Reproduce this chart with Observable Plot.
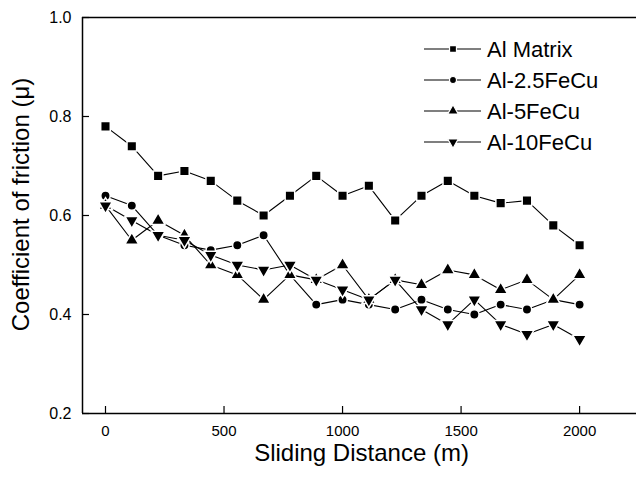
<!DOCTYPE html>
<html><head><meta charset="utf-8">
<script src="https://cdn.jsdelivr.net/npm/d3@7"></script>
<script src="https://cdn.jsdelivr.net/npm/@observablehq/plot@0.6"></script>
<style>
body{margin:0;background:#fff;}
#wrap{position:relative;width:636px;height:477px;}
#legend{position:absolute;left:0;top:0;}
</style></head><body><div id="wrap"></div>
<script>
const distance   = [0, 111, 222, 333, 444, 556, 667, 778, 889, 1000, 1111, 1222, 1333, 1444, 1556, 1667, 1778, 1889, 2000];
const alMatrix   = [0.78, 0.74, 0.68, 0.69, 0.67, 0.63, 0.60, 0.64, 0.68, 0.64, 0.66, 0.59, 0.64, 0.67, 0.64, 0.625, 0.63, 0.58, 0.54];
const al25FeCu   = [0.64, 0.62, 0.56, 0.54, 0.53, 0.54, 0.56, 0.48, 0.42, 0.43, 0.42, 0.41, 0.43, 0.41, 0.40, 0.42, 0.41, 0.43, 0.42];
const al5FeCu    = [0.62, 0.55, 0.59, 0.56, 0.50, 0.48, 0.43, 0.48, 0.47, 0.50, 0.43, 0.47, 0.46, 0.49, 0.48, 0.45, 0.47, 0.43, 0.48];
const al10FeCu   = [0.62, 0.59, 0.56, 0.55, 0.52, 0.50, 0.49, 0.50, 0.47, 0.45, 0.43, 0.47, 0.41, 0.38, 0.43, 0.38, 0.36, 0.38, 0.35];
const seriesNames = ["Al Matrix", "Al-2.5FeCu", "Al-5FeCu", "Al-10FeCu"];
const seriesValues = [alMatrix, al25FeCu, al5FeCu, al10FeCu];
const seriesSymbols = ["square", "circle", "triangle", "triangle"];
const seriesRotate = [0, 0, 0, 180];
const seriesRadius = [5.4, 4.7, 5.1, 5.1];
const xTicks = [0, 500, 1000, 1500, 2000];
const yTicks = [0.2, 0.4, 0.6, 0.8, 1.0];
const xDomain = [-97, 2240];
const yDomain = [0.2, 1.0];
const xTitle = "Sliding Distance (m)";
const yTitle = "Coefficient of friction (\u03bc)";

const rows = [];
seriesNames.forEach((name, i) => {
  distance.forEach((d, j) => rows.push({series: name, idx: i, x: d, y: seriesValues[i][j]}));
});

const mainFont = "'Liberation Sans', Arial, Helvetica, sans-serif";

const marks = [
  Plot.ruleX([xDomain[0]], {stroke: "black", strokeWidth: 1.5}),
  Plot.ruleY([yDomain[0], yDomain[1]], {stroke: "black", strokeWidth: 1.5}),
  Plot.axisX(xTicks, {anchor: "bottom", tickSize: -7, tickPadding: 19, tickFormat: d3.format("d"), label: null, fontSize: 15, fontFamily: mainFont, strokeWidth: 1.2}),
  Plot.axisY(yTicks, {anchor: "left", tickSize: -7, tickPadding: 18, tickFormat: d3.format(".1f"), label: null, fontSize: 16, fontFamily: mainFont, strokeWidth: 1.2}),
  Plot.line(rows, {x: "x", y: "y", z: "series", stroke: "black", strokeWidth: 1.1})
];
seriesNames.forEach((name, i) => {
  marks.push(Plot.dot(rows.filter(r => r.idx === i), {
    x: "x", y: "y", symbol: () => seriesSymbols[i], r: seriesRadius[i], rotate: seriesRotate[i],
    fill: "black", stroke: "white", strokeWidth: 1.5
  }));
});
marks.push(
  Plot.text([xTitle], {frameAnchor: "bottom", textAnchor: "middle", dx: 2, dy: 47, fontSize: 24, fontFamily: mainFont, fill: "black"}),
  Plot.text([yTitle], {frameAnchor: "left", textAnchor: "middle", rotate: -90, dx: -61, dy: -11, fontSize: 24, fontFamily: mainFont, fill: "black"})
);

const chart = Plot.plot({
  width: 636, height: 477,
  marginLeft: 82, marginRight: 0, marginTop: 17, marginBottom: 64,
  x: {domain: xDomain},
  y: {domain: yDomain},
  style: {background: "white", color: "black", fontFamily: mainFont},
  marks
});
const wrap = document.getElementById("wrap");
wrap.appendChild(chart);

// Legend (overlay)
const legendRowsY = [49, 80, 111, 142];
const svg = d3.select(wrap).append("svg").attr("id", "legend").attr("width", 636).attr("height", 477)
  .style("pointer-events", "none");
const symMap = {square: d3.symbolSquare, circle: d3.symbolCircle, triangle: d3.symbolTriangle};
const legendR = [3.9, 3.5, 4.0, 4.0];
seriesNames.forEach((name, i) => {
  const g = svg.append("g").attr("transform", `translate(0,${legendRowsY[i]})`);
  g.append("line").attr("x1", 424).attr("x2", 481).attr("y1", 0).attr("y2", 0).attr("stroke", "black").attr("stroke-width", 1.2);
  g.append("path").attr("d", d3.symbol(symMap[seriesSymbols[i]], Math.PI * legendR[i] * legendR[i])())
    .attr("transform", `translate(453,0) rotate(${seriesRotate[i]})`).attr("fill", "black").attr("stroke", "white").attr("stroke-width", 1.2);
  g.append("text").attr("x", 487).attr("y", 0).attr("dy", "0.35em").attr("font-size", 22)
    .attr("font-family", mainFont).attr("fill", "black").text(name);
});
</script>
</body></html>
